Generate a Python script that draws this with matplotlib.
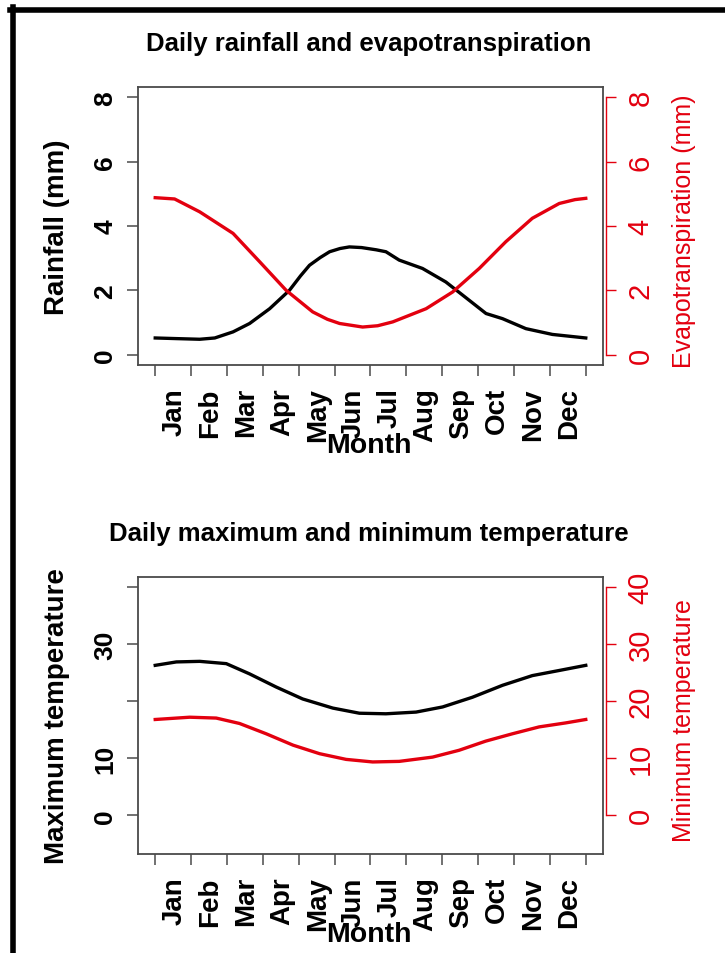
import matplotlib
matplotlib.use("Agg")
import matplotlib.pyplot as plt
from matplotlib.lines import Line2D

plt.rcParams["font.family"] = ["Liberation Sans", "DejaVu Sans"]

# month position (0 = start of Jan, 12 = end of Dec) and values
months = ["Jan", "Feb", "Mar", "Apr", "May", "Jun",
          "Jul", "Aug", "Sep", "Oct", "Nov", "Dec"]

rain_x = [0.0, 0.6, 1.24, 1.66, 2.17, 2.63, 3.19, 3.74, 4.05, 4.3, 4.6, 4.86,
          5.15, 5.41, 5.75, 6.16, 6.43, 6.8, 7.45, 8.1, 8.57, 9.22, 9.68,
          10.33, 11.07, 12.0]
rain_y = [0.52, 0.50, 0.48, 0.52, 0.71, 0.97, 1.43, 2.0, 2.45, 2.78, 3.02,
          3.2, 3.3, 3.35, 3.33, 3.26, 3.2, 2.94, 2.68, 2.26, 1.85, 1.28,
          1.12, 0.81, 0.63, 0.52]

et_x = [0.0, 0.54, 1.24, 2.17, 2.91, 3.65, 4.39, 4.8, 5.14, 5.78, 6.2, 6.62,
        7.55, 8.29, 9.03, 9.77, 10.51, 11.26, 11.7, 12.0]
et_y = [4.88, 4.84, 4.44, 3.77, 2.89, 2.0, 1.33, 1.1, 0.97, 0.86, 0.9, 1.02,
        1.43, 1.95, 2.68, 3.51, 4.24, 4.70, 4.82, 4.86]

tmax_x = [0.0, 0.59, 1.24, 1.98, 2.63, 3.37, 4.11, 4.95, 5.69, 6.43, 7.27,
          8.01, 8.84, 9.68, 10.51, 11.26, 12.0]
tmax_y = [26.3, 26.9, 27.0, 26.6, 24.8, 22.5, 20.4, 18.8, 17.9, 17.8, 18.1,
          19.0, 20.7, 22.8, 24.5, 25.4, 26.3]

tmin_x = [0.0, 0.96, 1.70, 2.35, 3.09, 3.84, 4.58, 5.32, 6.06, 6.8, 7.73,
          8.47, 9.21, 9.96, 10.70, 11.44, 12.0]
tmin_y = [16.8, 17.2, 17.05, 16.1, 14.3, 12.3, 10.8, 9.8, 9.35, 9.45, 10.2,
          11.4, 13.0, 14.3, 15.5, 16.2, 16.8]

W, H = 725, 954
fig = plt.figure(figsize=(W / 100, H / 100), dpi=100)
RED = "#e3000f"
BOX = "#4a4a4a"


def px_box(left, top, right, bottom):
    return [left / W, 1 - bottom / H, (right - left) / W, (bottom - top) / H]


def make_panel(rect, title, ylab, rlab, lticks, llabels, rticks, ylim,
               x1, y1, x2, y2):
    ax = fig.add_axes(px_box(*rect))
    ax.plot(x1, y1, color="black", lw=2.4, solid_joinstyle="round")
    ax.plot(x2, y2, color=RED, lw=2.4, solid_joinstyle="round")
    ax.set_xlim(-0.48, 12.48)
    ax.set_ylim(*ylim)
    for s in ax.spines.values():
        s.set_color(BOX)
        s.set_linewidth(1.3)

    # x axis: ticks at month boundaries, labels in between
    ax.set_xticks(range(13))
    ax.set_xticklabels([])
    ax.set_xticks([i + 0.53 for i in range(12)], minor=True)
    ax.set_xticklabels(months, minor=True, rotation=90, fontsize=20,
                       fontweight="bold")
    ax.tick_params(axis="x", which="major", length=8, width=1.1,
                   color=BOX, direction="out")
    ax.tick_params(axis="x", which="minor", length=0, pad=16)

    # left y axis
    ax.set_yticks(lticks)
    ax.set_yticklabels(llabels, fontsize=19, fontweight="bold")
    for lab in ax.get_yticklabels():
        lab.set_rotation(90)
        lab.set_va("center")
    ax.tick_params(axis="y", length=8, width=1.1, color=BOX, pad=7)

    # right y axis (red)
    ax2 = ax.twinx()
    ax2.set_ylim(*ylim)
    for k in ["top", "bottom", "left"]:
        ax2.spines[k].set_visible(False)
    ax2.spines["right"].set_color(RED)
    ax2.spines["right"].set_linewidth(1.0)
    ax2.spines["right"].set_bounds(rticks[0], rticks[-1])
    ax2.spines["right"].set_position(("outward", 2))
    ax2.set_yticks(rticks)
    ax2.set_yticklabels([str(v) for v in rticks], fontsize=21, color=RED)
    for lab in ax2.get_yticklabels():
        lab.set_rotation(90)
        lab.set_va("center")
    ax2.tick_params(axis="y", length=7, width=1.0, color=RED, pad=8)

    left, top, right, bottom = rect
    cy = (top + bottom) / 2
    fig.text(369 / W, 1 - (top - 44) / H, title, ha="center", va="center",
             fontsize=18.5, fontweight="bold")
    fig.text(57 / W, 1 - cy / H, ylab, ha="center", va="center",
             rotation=90, fontsize=20, fontweight="bold")
    fig.text(684 / W, 1 - (cy + 4) / H, rlab, ha="center", va="center",
             rotation=90, fontsize=18, color=RED)
    fig.text(369 / W, 1 - (bottom + 80) / H, "Month", ha="center",
             va="center", fontsize=20.5, fontweight="bold")
    return ax


make_panel((138, 88, 603, 366), "Daily rainfall and evapotranspiration",
           "Rainfall (mm)", "Evapotranspiration (mm)",
           [0, 2, 4, 6, 8], ["0", "2", "4", "6", "8"], [0, 2, 4, 6, 8],
           (-0.32, 8.32), rain_x, rain_y, et_x, et_y)

make_panel((138, 578, 603, 855), "Daily maximum and minimum temperature",
           "Maximum temperature", "Minimum temperature",
           [0, 10, 20, 30, 40], ["0", "10", "", "30", ""], [0, 10, 20, 30, 40],
           (-6.8, 41.8), tmax_x, tmax_y, tmin_x, tmin_y)

# black frame of the original picture (left and top edges)
fig.add_artist(Line2D([12.5 / W, 12.5 / W], [0, 1 - 8 / H],
                      transform=fig.transFigure, color="black", lw=4))
fig.add_artist(Line2D([10 / W, 1.0], [1 - 10.5 / H, 1 - 10.5 / H],
                      transform=fig.transFigure, color="black", lw=4))

fig.savefig("out.png", dpi=100, facecolor="white")
